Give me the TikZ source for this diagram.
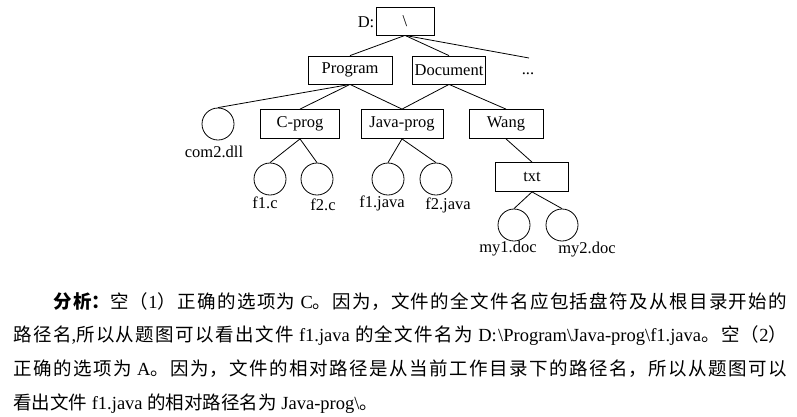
\documentclass[tikz,border=0pt]{standalone}
\usepackage{fontspec}
\setmainfont{Liberation Serif}
\newfontfamily\cjk{Noto Sans CJK SC}
\begin{document}
\begin{tikzpicture}[x=1pt,y=-1pt,
  box/.style={draw,line width=0.8pt,minimum height=28pt,inner sep=0pt,font=\fontsize{16.5}{18}\selectfont},
  file/.style={draw,circle,line width=0.8pt,minimum size=32pt,inner sep=0pt},
  lbl/.style={inner sep=0pt,font=\fontsize{16.5}{18}\selectfont},
  edge/.style={line width=0.8pt}]
\useasboundingbox (0,0) rectangle (797,416);
% tree
\node[box,minimum width=58pt] (root) at (405,21) {\textbackslash};
\node[lbl] (dlab) at (366,22) {D:};
\node[box,minimum width=84pt] (prog) at (350,70) {Program};
\node[box,minimum width=73pt] (doc) at (449,70) {Document};
\node[lbl] (dots) at (528,74) {...};
\coordinate (dotsend) at (529,58);
\node[file] (com2) at (218,124) {};
\node[lbl] (com2l) at (214,152) {com2.dll};
\node[box,minimum width=79pt,minimum height=29pt] (cprog) at (300,124) {C-prog};
\node[box,minimum width=82pt,minimum height=29pt] (jprog) at (402,124) {Java-prog};
\node[box,minimum width=74pt,minimum height=29pt] (wang) at (506,124) {Wang};
\node[file] (f1c) at (270,179) {};
\node[file] (f2c) at (317,179) {};
\node[lbl] (f1cl) at (265,203) {f1.c};
\node[lbl] (f2cl) at (323,205) {f2.c};
\node[file] (f1j) at (388,179) {};
\node[file] (f2j) at (436,179) {};
\node[lbl] (f1jl) at (382,203) {f1.java};
\node[lbl] (f2jl) at (448,205) {f2.java};
\node[box,minimum width=73pt,minimum height=29pt] (txt) at (532,177) {txt};
\node[file] (my1) at (514,225) {};
\node[file] (my2) at (562,225) {};
\node[lbl] (my1l) at (508,249) {my1.doc};
\node[lbl] (my2l) at (587,250) {my2.doc};
\draw[edge] (root.south) -- (prog.north);
\draw[edge] (root.south) -- (doc.north);
\draw[edge] (root.south) -- (dotsend);
\draw[edge] (prog.south) -- (com2.north);
\draw[edge] (prog.south) -- (cprog.north);
\draw[edge] (prog.south) -- (jprog.north);
\draw[edge] (doc.south) -- (jprog.north);
\draw[edge] (doc.south) -- (wang.north);
\draw[edge] (cprog.south) -- (f1c.north);
\draw[edge] (cprog.south) -- (f2c.north);
\draw[edge] (jprog.south) -- (f1j.north);
\draw[edge] (jprog.south) -- (f2j.north);
\draw[edge] (wang.south) -- (txt.north);
\draw[edge] (txt.south) -- (my1.north);
\draw[edge] (txt.south) -- (my2.north);
% text
\node[anchor=north west,inner sep=0pt,text width=774pt,align=justify,
  font=\fontsize{18.5}{33.7}\selectfont] (para) at (13,292) {%
\XeTeXlinebreaklocale "zh"\XeTeXlinebreakskip=0pt plus 6pt\relax
\hspace*{40pt}{\cjk\bfseries 分析：}{\cjk 空（}1{\cjk ）正确的选项为} C{\cjk 。因为，文件的全文件名应包括盘符及从根目录开始的}\linebreak
{\cjk 路径名},{\cjk 所以从题图可以看出文件} f1.java {\cjk 的全文件名为} D:\textbackslash Program\textbackslash Java-prog\textbackslash f1.java{\cjk 。空（}2{\cjk ）}\linebreak
{\cjk 正确的选项为} A{\cjk 。因为，文件的相对路径是从当前工作目录下的路径名，所以从题图可以}\linebreak
{\cjk 看出文件} f1.java {\cjk 的相对路径名为} Java-prog\textbackslash{\cjk 。}\par};
\end{tikzpicture}
\end{document}
